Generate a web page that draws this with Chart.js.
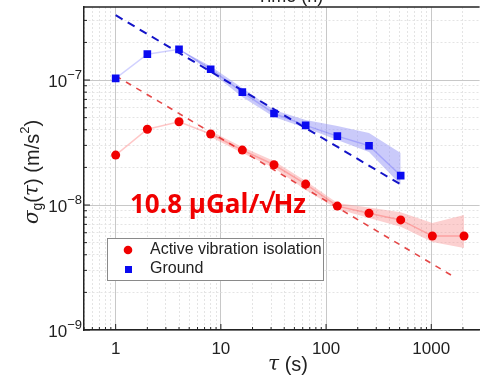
<!DOCTYPE html>
<html>
<head>
<meta charset="utf-8">
<script src="https://cdn.jsdelivr.net/npm/chart.js@4"></script>
<style>
  html, body { margin: 0; padding: 0; background: #fff; }
  #wrap { width: 485px; height: 377px; }
</style>
</head>
<body>
<div id="wrap"><canvas id="allan"></canvas></div>
<script>
// Allan deviation, averaging time tau in s, sigma in m/s^2
const tauActive = [1, 2, 4, 8, 16, 32, 64, 128, 256, 512, 1024, 2048];
const sigmaActive = [2.51e-8, 4.04e-8, 4.64e-8, 3.70e-8, 2.75e-8, 2.10e-8, 1.47e-8, 9.8e-9, 8.6e-9, 7.6e-9, 5.65e-9, 5.65e-9];
const tauGround = [1, 2, 4, 8, 16, 32, 64, 128, 256, 512];
const sigmaGround = [1.03e-7, 1.61e-7, 1.76e-7, 1.22e-7, 8.0e-8, 5.4e-8, 4.34e-8, 3.56e-8, 2.98e-8, 1.72e-8];

// shaded error bands
const bandTauActive = [8, 16, 32, 64, 128, 256, 512, 1024, 2048];
const bandHiActive = [3.91e-8, 2.91e-8, 2.25e-8, 1.56e-8, 1.04e-8, 9.55e-9, 8.74e-9, 7.18e-9, 8.32e-9];
const bandLoActive = [3.50e-8, 2.61e-8, 1.98e-8, 1.32e-8, 9.29e-9, 7.87e-9, 6.70e-9, 5.06e-9, 4.53e-9];
const bandTauGround = [4, 8, 16, 32, 64, 128, 256, 512];
const bandHiGround = [1.76e-7, 1.29e-7, 8.63e-8, 5.75e-8, 4.79e-8, 4.29e-8, 3.77e-8, 2.61e-8];
const bandLoGround = [1.76e-7, 1.16e-7, 7.31e-8, 5.06e-8, 4.13e-8, 3.31e-8, 2.65e-8, 1.45e-8];

// tau^-1/2 guide lines (end points)
const fitTauActive = [1, 1700];
const fitActive = [1.08e-7, 2.62e-9];
const fitTauGround = [1, 512];
const fitGround = [3.3e-7, 1.46e-8];

// axes
const xMin = 0.5, xMax = 2880;
const yMin = 1e-9, yMax = 3.84e-7;
const xDecades = [0.1, 1, 10, 100, 1000];
const xMajor = [1, 10, 100, 1000];
const yMajor = [1e-9, 1e-8, 1e-7];
const yExponents = ['-9', '-8', '-7'];
const steps = [1, 2, 3, 4, 5, 6, 7, 8, 9];

const annotation = '10.8 \u00b5Gal/\u221aHz';
const legendLabels = ['Active vibration isolation', 'Ground'];

const RED = '#f00000';
const BLUE = '#0a0af0';

function isMajor(v) {
    if (!v) return false;
    const l = Math.log10(v);
    return Math.abs(l - Math.round(l)) < 1e-6;
}

function logTicks(decades, lo, hi) {
    const out = [];
    decades.forEach(d => steps.forEach(m => {
        const v = d * m;
        if (v >= lo * 0.9999 && v <= hi * 1.0001) out.push({ value: v, major: isMajor(v) });
    }));
    return out;
}

function pts(xs, ys) {
    return xs.map((x, i) => ({ x: x, y: ys[i] }));
}

//Draws everything that is not a dataset
const decorations = {
    id: 'decorations',
    afterDraw(chart) {
        const ctx = chart.ctx;
        const a = chart.chartArea;
        const xs = chart.scales.x, ys = chart.scales.y;
        ctx.save();

        // top frame line
        ctx.strokeStyle = '#222';
        ctx.lineWidth = 1.5;
        ctx.beginPath();
        ctx.moveTo(a.left, a.top);
        ctx.lineTo(a.right, a.top);
        ctx.stroke();

        // inner ticks
        ctx.lineWidth = 1;
        xs.ticks.forEach(t => {
            const px = xs.getPixelForValue(t.value);
            const len = t.major ? 6 : 3;
            ctx.beginPath();
            ctx.moveTo(px, a.bottom);
            ctx.lineTo(px, a.bottom - len);
            ctx.stroke();
        });
        ys.ticks.forEach(t => {
            const py = ys.getPixelForValue(t.value);
            const len = t.major ? 6 : 3;
            ctx.beginPath();
            ctx.moveTo(a.left, py);
            ctx.lineTo(a.left + len, py);
            ctx.stroke();
        });

        // y tick labels 10^n
        ctx.fillStyle = '#222';
        ctx.textBaseline = 'alphabetic';
        yMajor.forEach((v, i) => {
            const py = ys.getPixelForValue(v);
            ctx.font = '13px "Liberation Sans", Arial, sans-serif';
            const ew = ctx.measureText(yExponents[i].replace('-', '\u2212')).width;
            ctx.textAlign = 'right';
            ctx.fillText(yExponents[i].replace('-', '\u2212'), a.left - 2, py - 1);
            ctx.font = '17px "Liberation Sans", Arial, sans-serif';
            ctx.fillText('10', a.left - 2 - ew, py + 7);
        });

        // x title
        ctx.textBaseline = 'middle';
        ctx.textAlign = 'left';
        const xt = [['\u03c4', 'italic 20px "DejaVu Serif", serif'], [' (s)', '20px "Liberation Sans", Arial, sans-serif']];
        let w = 0;
        xt.forEach(s => { ctx.font = s[1]; w += ctx.measureText(s[0]).width; });
        let cx = 288 - w / 2;
        xt.forEach(s => { ctx.font = s[1]; ctx.fillText(s[0], cx, 365); cx += ctx.measureText(s[0]).width; });

        // y title, rotated
        const sans = '"Liberation Sans", Arial, sans-serif';
        const yt = [
            ['\u03c3', 'italic 20px "DejaVu Serif", serif', 0],
            ['g', '14px ' + sans, 5],
            ['(', '20px ' + sans, 0],
            ['\u03c4', 'italic 20px "DejaVu Serif", serif', 0],
            [') (m/s', '20px ' + sans, 0],
            ['2', '13px ' + sans, -8],
            [')', '20px ' + sans, 0]
        ];
        w = 0;
        yt.forEach(s => { ctx.font = s[1]; w += ctx.measureText(s[0]).width; });
        ctx.translate(33, 172);
        ctx.rotate(-Math.PI / 2);
        cx = -w / 2;
        yt.forEach(s => { ctx.font = s[1]; ctx.fillText(s[0], cx, s[2]); cx += ctx.measureText(s[0]).width; });
        ctx.setTransform(1, 0, 0, 1, 0, 0);

        // clipped top title
        ctx.textAlign = 'center';
        ctx.textBaseline = 'alphabetic';
        ctx.font = '18px ' + sans;
        ctx.fillText('Time (h)', 290, 2);

        // annotation
        ctx.fillStyle = RED;
        ctx.font = 'bold 26px "Open Sans", "Liberation Sans", sans-serif';
        ctx.textAlign = 'left';
        ctx.textBaseline = 'middle';
        ctx.fillText(annotation, 130, 206);

        // legend
        ctx.fillStyle = '#fff';
        ctx.fillRect(107, 238, 216, 42);
        ctx.strokeStyle = '#8a8a8a';
        ctx.lineWidth = 1;
        ctx.strokeRect(107.5, 238.5, 216, 42);
        ctx.font = '16px ' + sans;
        ctx.fillStyle = '#222';
        ctx.fillText(legendLabels[0], 150, 250);
        ctx.fillText(legendLabels[1], 150, 269);
        ctx.fillStyle = RED;
        ctx.beginPath();
        ctx.arc(128, 250, 4.3, 0, Math.PI * 2);
        ctx.fill();
        ctx.fillStyle = BLUE;
        ctx.fillRect(125, 266, 7, 7);

        ctx.restore();
    }
};

const chart = new Chart(document.getElementById('allan'), {
    type: 'line',
    data: {
        datasets: [
            {
                label: legendLabels[0],
                data: pts(tauActive, sigmaActive),
                borderColor: 'rgba(255, 0, 0, 0.22)',
                borderWidth: 1.5,
                pointStyle: 'circle',
                pointRadius: 4.5,
                pointBackgroundColor: RED,
                pointBorderWidth: 0,
                order: 0
            },
            {
                label: legendLabels[1],
                data: pts(tauGround, sigmaGround),
                borderColor: 'rgba(0, 0, 255, 0.18)',
                borderWidth: 1.5,
                pointStyle: 'rect',
                pointRadius: 5.4,
                pointBackgroundColor: BLUE,
                pointBorderWidth: 0,
                order: 0
            },
            {
                data: pts(fitTauActive, fitActive),
                borderColor: 'rgba(225, 40, 40, 0.85)',
                borderWidth: 1.6,
                borderDash: [6, 6],
                pointRadius: 0,
                order: 1
            },
            {
                data: pts(fitTauGround, fitGround),
                borderColor: '#1414c8',
                borderWidth: 2,
                borderDash: [8, 6],
                pointRadius: 0,
                order: 1
            },
            {
                data: pts(bandTauActive, bandHiActive),
                borderWidth: 0,
                pointRadius: 0,
                backgroundColor: 'rgba(248, 150, 150, 0.45)',
                fill: '+1',
                order: 2
            },
            {
                data: pts(bandTauActive, bandLoActive),
                borderWidth: 0,
                pointRadius: 0,
                order: 2
            },
            {
                data: pts(bandTauGround, bandHiGround),
                borderWidth: 0,
                pointRadius: 0,
                backgroundColor: 'rgba(150, 150, 245, 0.5)',
                fill: '+1',
                order: 2
            },
            {
                data: pts(bandTauGround, bandLoGround),
                borderWidth: 0,
                pointRadius: 0,
                order: 2
            }
        ]
    },
    options: {
        responsive: true,
        maintainAspectRatio: false,
        animation: false,
        layout: { padding: { top: 7, right: 0, left: 0, bottom: 0 } },
        plugins: {
            legend: { display: false },
            tooltip: { enabled: false }
        },
        scales: {
            x: {
                type: 'logarithmic',
                min: xMin,
                max: xMax,
                afterBuildTicks: s => { s.ticks = logTicks(xDecades, xMin, xMax); },
                afterFit: s => { s.height = 47; },
                grid: {
                    color: c => (c.tick && c.tick.major) ? '#c8c8c8' : '#e4e4e4',
                    lineWidth: 1,
                    drawTicks: false
                },
                border: {
                    color: '#222',
                    width: 1.5,
                    dash: c => (c.tick && !c.tick.major) ? [2, 2] : []
                },
                ticks: {
                    autoSkip: false,
                    maxRotation: 0,
                    padding: 9,
                    color: '#222',
                    font: { family: '"Liberation Sans", Arial, sans-serif', size: 17 },
                    callback: v => xMajor.includes(v) ? String(v) : ''
                }
            },
            y: {
                type: 'logarithmic',
                min: yMin,
                max: yMax,
                afterBuildTicks: s => { s.ticks = logTicks(yMajor, yMin, yMax); },
                afterFit: s => { s.width = 84; },
                grid: {
                    color: c => (c.tick && c.tick.major) ? '#c8c8c8' : '#e4e4e4',
                    lineWidth: 1,
                    drawTicks: false
                },
                border: {
                    color: '#222',
                    width: 1.5,
                    dash: c => (c.tick && !c.tick.major) ? [2, 2] : []
                },
                ticks: { display: false }
            }
        }
    },
    plugins: [decorations]
});
</script>
</body>
</html>
